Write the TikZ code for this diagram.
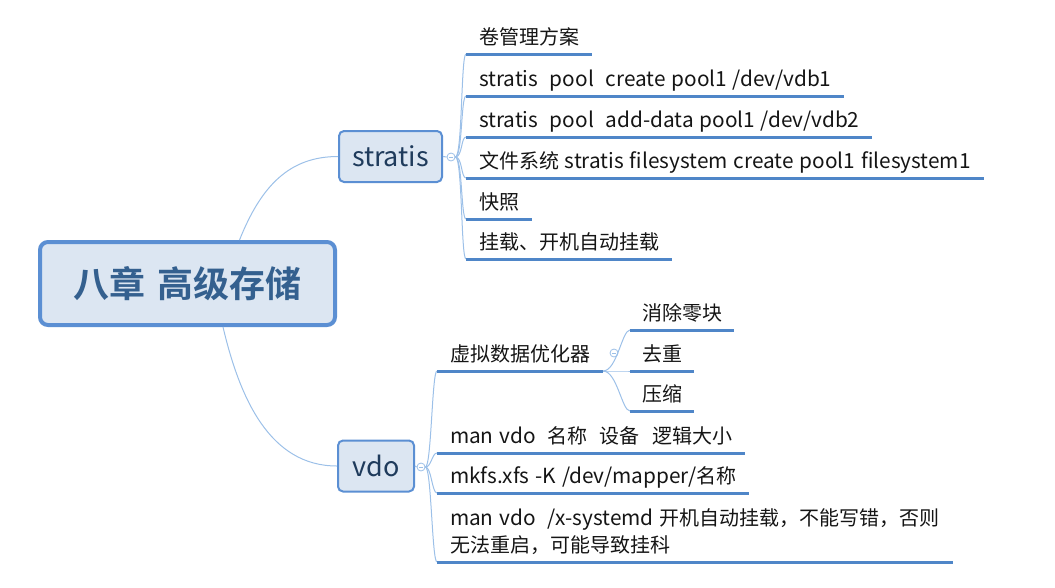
\documentclass[tikz,border=0pt]{standalone}
\usepackage{fontspec}
\setmainfont{Noto Sans CJK SC}[BoldFont={Noto Sans CJK SC Bold}, WordSpace=1.4]
\newfontfamily\latin{Noto Sans CJK SC}[Scale=1.04, WordSpace=1.25]
\definecolor{boxfill}{HTML}{DCE6F2}
\definecolor{boxline}{HTML}{5B8FD3}
\definecolor{linkblue}{HTML}{9CC0E8}
\definecolor{lineblue}{HTML}{4F86C8}
\definecolor{titleblue}{HTML}{34608F}
\definecolor{subblue}{HTML}{1F3B5C}
\definecolor{leaftext}{HTML}{151515}

\begin{document}
\begin{tikzpicture}[
		x=1pt, y=-1pt,
		root/.style={rectangle, rounded corners=8pt, draw=boxline, line width=4pt, fill=boxfill, minimum width=295pt, minimum height=83pt, font=\fontsize{36}{40}\selectfont\bfseries, text=titleblue},
		topic/.style={rectangle, rounded corners=5pt, draw=boxline, line width=2pt, fill=boxfill, minimum height=51pt, inner xsep=0pt, font=\fontsize{27}{30}\selectfont, text=subblue},
		leaf/.style={anchor=south west, inner xsep=13pt, inner ysep=0pt, outer sep=0pt, text depth=10pt, align=left, font=\fontsize{20}{27}\selectfont, text=leaftext},
		fold/.style={circle, draw=linkblue, fill=white, line width=0.8pt, minimum size=8pt, inner sep=0pt, path picture={\draw[linkblue, line width=0.8pt] ([xshift=-2.2pt]path picture bounding box.center) -- ([xshift=2.2pt]path picture bounding box.center);}},
		link/.style={draw=linkblue, line width=1pt},
		uline/.style={draw=lineblue, line width=3pt}
	]
  \useasboundingbox (0, 0) rectangle (1055, 587);
  \node (root) [root] at (187.5, 283.5) {八章 高级存储};
  \node (stratis) [topic, minimum width=103pt] at (390.5, 156.5) {stratis};
  \node (vdo) [topic, minimum width=76pt] at (376, 466) {vdo};
  \node (stratis-c) [fold] at (451, 157) {};
  \node (vdo-c) [fold] at (421, 467) {};
  \node (virt-c) [fold] at (614, 353) {};

  \node (s1) [leaf] at (466, 54) {卷管理方案};
  \node (s2) [leaf] at (466, 96) {\latin stratis\ \ pool\ \ create pool1 /dev/vdb1};
  \node (s3) [leaf] at (466, 137) {\latin stratis\ \ pool\ \ add-data pool1 /dev/vdb2};
  \node (s4) [leaf] at (466, 178) {文件系统{\latin\ stratis filesystem create pool1 filesystem1}};
  \node (s5) [leaf] at (466, 219) {快照};
  \node (s6) [leaf] at (466, 259) {挂载、开机自动挂载};

  \node (v1) [leaf] at (437, 371) {虚拟数据优化器};
  \node (v2) [leaf] at (437, 453) {{\latin man vdo\ \ }名称\ \ 设备\ \ 逻辑大小};
  \node (v3) [leaf] at (437, 493) {{\latin mkfs.xfs -K /dev/mapper/}名称};
  \node (v4) [leaf] at (437, 562) {{\latin man vdo\ \ /x-systemd }开机自动挂载，不能写错，否则\\无法重启，可能导致挂科};

  \node (d1) [leaf, inner xsep=12pt] at (630, 330) {消除零块};
  \node (d2) [leaf, inner xsep=12pt] at (630, 371) {去重};
  \node (d3) [leaf, inner xsep=12pt] at (630, 411) {压缩};

  \draw[link] ([xshift=52pt]root.north) .. controls +(22, -55) and +(-48, 0) .. (stratis.west);
  \draw[link] ([xshift=35.5pt]root.south) .. controls +(17, 72) and +(-67, 0) .. (vdo.west);
  \draw[link] (stratis.east) -- (stratis-c.west);
  \draw[link] (vdo.east) -- (vdo-c.west);
  \foreach \i in {1,...,6}
    \draw[link] (stratis-c.east) .. controls +(7, 0) and +(-5, 0) .. (s\i.south west);
  \foreach \i in {1,...,4}
    \draw[link] (vdo-c.east) .. controls +(6, 0) and +(-5, 0) .. (v\i.south west);
  \foreach \i in {1,2,3}
    \draw[link] (v1.south east) .. controls +(14, 0) and +(-8, 0) .. (d\i.south west);

  \foreach \i in {1,...,6}
    \draw[uline] (s\i.south west) -- (s\i.south east);
  \foreach \i in {1,...,4}
    \draw[uline] (v\i.south west) -- (v\i.south east);
  \foreach \i in {1,2,3}
    \draw[uline] (d\i.south west) -- (d\i.south east);
\end{tikzpicture}
\end{document}
